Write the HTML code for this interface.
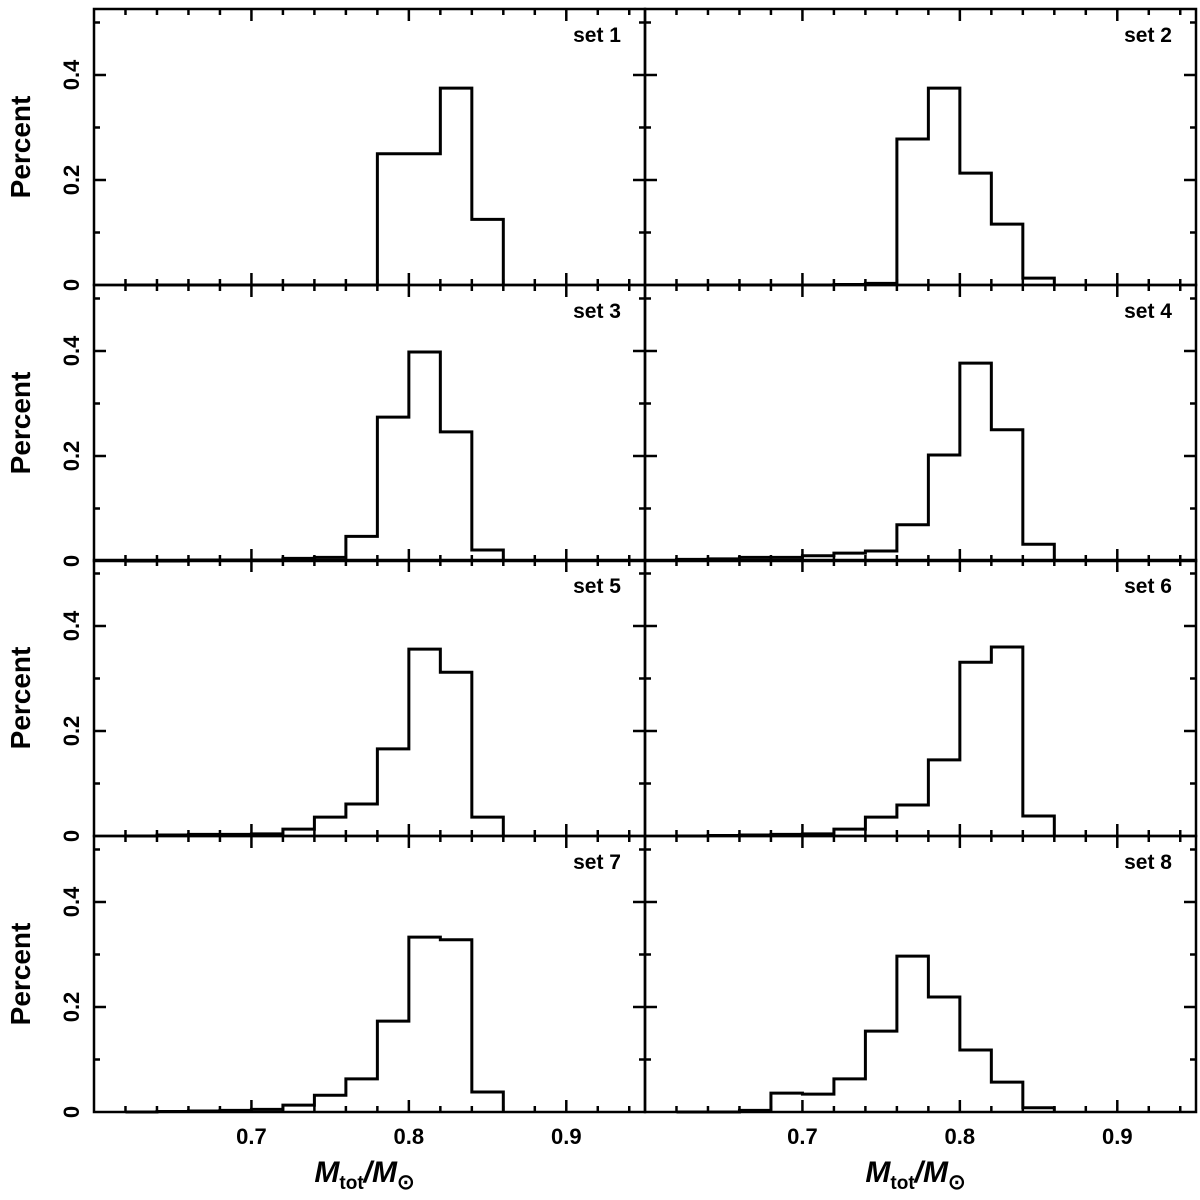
<!DOCTYPE html>
<html><head><meta charset="utf-8"><style>
html,body{margin:0;padding:0;background:#fff;}
svg{display:block;}
text{font-family:"Liberation Sans",sans-serif;font-weight:bold;fill:#000;}
</style></head><body>
<svg id="chart" width="1200" height="1200" viewBox="0 0 1200 1200"></svg>
<script>
const binStart = 0.62;
const binWidth = 0.02;
const setNames = ["set 1","set 2","set 3","set 4","set 5","set 6","set 7","set 8"];
const set1 = [0,0,0,0,0,0,0,0,0.25,0.25,0.375,0.125];
const set2 = [0,0,0,0,0,0.001,0.003,0.278,0.375,0.213,0.116,0.013];
const set3 = [0,0,0.002,0.002,0.002,0.005,0.007,0.047,0.274,0.398,0.246,0.021];
const set4 = [0.003,0.004,0.007,0.007,0.010,0.015,0.019,0.069,0.202,0.377,0.25,0.032];
const set5 = [0,0.002,0.003,0.003,0.004,0.013,0.036,0.061,0.166,0.356,0.312,0.036];
const set6 = [0,0.001,0.002,0.003,0.004,0.013,0.036,0.059,0.145,0.331,0.36,0.038];
const set7 = [0,0.001,0.002,0.003,0.005,0.013,0.032,0.063,0.173,0.333,0.328,0.038];
const set8 = [0,0,0.003,0.036,0.034,0.063,0.154,0.297,0.219,0.118,0.057,0.008];
const allSets = [set1,set2,set3,set4,set5,set6,set7,set8];
const xTickLabels = ["0.7","0.8","0.9"];
const xTickValues = [0.7,0.8,0.9];
const yTickLabels = ["0","0.2","0.4"];
const yTickValues = [0,0.2,0.4];

const NS="http://www.w3.org/2000/svg";
const svg=document.getElementById('chart');
const X0=[94,645], W=551, XMIN=0.6, XMAX=0.95;
const Y0=[9,285,560,836], H=276, YMAX=0.5257;
function mk(tag,attrs,parent){const e=document.createElementNS(NS,tag);for(const k in attrs)e.setAttribute(k,attrs[k]);(parent||svg).appendChild(e);return e;}

for(let p=0;p<8;p++){
  const col=p%2,row=Math.floor(p/2);
  const left=X0[col], top=Y0[row], bottom=top+H;
  const xs=v=>left+(v-XMIN)/(XMAX-XMIN)*W;
  const ys=v=>bottom-v/YMAX*H;
  const g=mk('g',{});
  
  
  for(let i=0;i<=17;i++){
    const v=0.6+i*0.02; const x=xs(v); if(x<=left+1||x>=left+W-1)continue;
    const major=Math.abs(Math.round(v*10)-v*10)<1e-6; const L=major?12:6;
    mk('line',{x1:x,y1:bottom,x2:x,y2:bottom-L,stroke:'#000','stroke-width':2.5},g);
    mk('line',{x1:x,y1:top,x2:x,y2:top+L,stroke:'#000','stroke-width':2.5},g);
  }
  for(let i=1;i<=5;i++){
    const v=i*0.1; const y=ys(v); const major=(i%2===0); const L=major?12:6;
    mk('line',{x1:left,y1:y,x2:left+L,y2:y,stroke:'#000','stroke-width':2.5},g);
    mk('line',{x1:left+W,y1:y,x2:left+W-L,y2:y,stroke:'#000','stroke-width':2.5},g);
  }
  const vals=allSets[p]; let d='';
  vals.forEach((v,i)=>{
    const a=xs(binStart+i*binWidth), b=xs(binStart+(i+1)*binWidth), y=ys(v);
    d+=(i===0?'M'+a+','+ys(0)+' L'+a+','+y:' L'+a+','+y)+' L'+b+','+y;
  });
  d+=' L'+xs(binStart+vals.length*binWidth)+','+ys(0);
  const h=mk('path',{d:d,fill:'none',stroke:'#000','stroke-width':3,'stroke-linejoin':'miter'},g);
  
  
  mk('rect',{x:left,y:top,width:W,height:H,fill:'none',stroke:'#000','stroke-width':2.5},g);
  const t=mk('text',{x:left+W-24,y:top+33,'font-size':21,'text-anchor':'end','font-family':'"Liberation Mono",monospace'},g);
  t.textContent=setNames[p];
  
  
  if(col===0){
    yTickValues.forEach((v,i)=>{
      const yl=mk('text',{transform:'translate(79,'+ys(v)+') rotate(-90)','font-size':22,'text-anchor':'middle'},g);
      yl.textContent=yTickLabels[i];
      
      
    });
    const yt=mk('text',{transform:'translate(30,'+(top+H/2)+') rotate(-90)','font-size':28,'text-anchor':'middle','font-family':'"Liberation Serif",serif'},g);
    yt.textContent='Percent';
    
    
  }
  if(row===3){
    xTickValues.forEach((v,i)=>{
      const xl=mk('text',{x:xs(v),y:1144,'font-size':22,'text-anchor':'middle'},g);
      xl.textContent=xTickLabels[i];
      
      
    });
    const xt=mk('text',{x:left+W/2-5,y:1182,'font-size':30,'text-anchor':'middle','font-family':'"Liberation Serif",serif','font-style':'italic'},g);
    xt.innerHTML='M<tspan font-size="19" font-style="normal" font-family="Liberation Sans" dy="7">tot</tspan><tspan dy="-7">/M</tspan><tspan font-size="21" font-style="normal" dy="7">⊙</tspan>';
    
    
  }
}
</script>
</body></html>
